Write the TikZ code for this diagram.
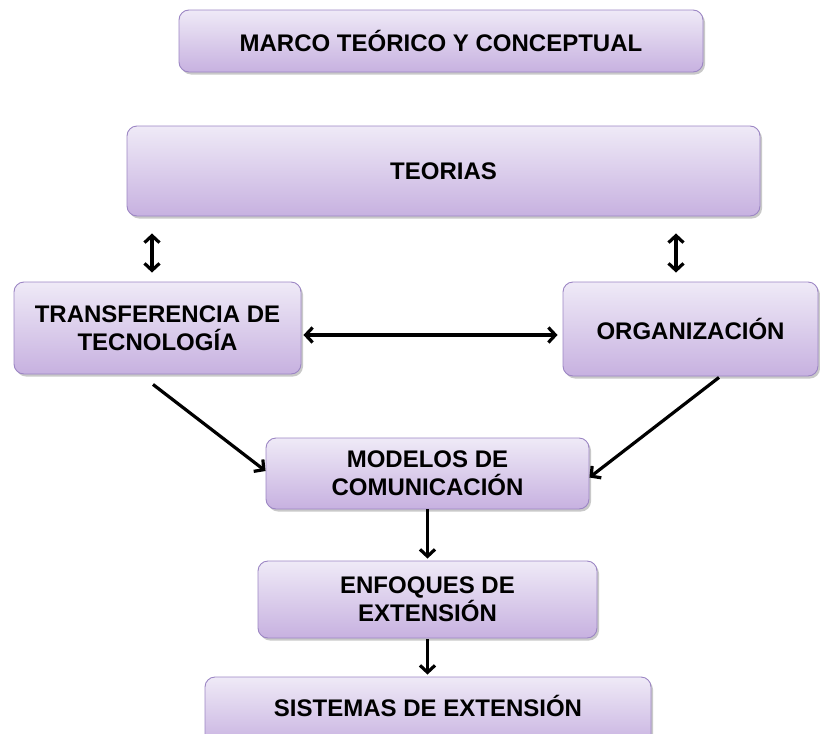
\documentclass[tikz,border=0pt]{standalone}
\usepackage{fontspec}
\setmainfont{Liberation Sans}
\usetikzlibrary{arrows.meta,shadows,calc}
\definecolor{boxtop}{HTML}{EFEAF7}
\definecolor{boxbot}{HTML}{C7B1E0}
\definecolor{boxline}{HTML}{9C86C4}
\tikzset{
  box/.style={rectangle, rounded corners=10pt, draw=boxline, line width=0.9pt,
    top color=boxtop, bottom color=boxbot, align=center, inner sep=0pt,
    font=\fontsize{24}{28}\selectfont\bfseries,
    drop shadow={shadow xshift=2pt, shadow yshift=-2.5pt, opacity=0.35, fill=black!60}},
  boxtext/.style={font=\fontsize{24}{28}\selectfont\bfseries, inner sep=0pt},
  conn/.style={line width=3.2pt, black, -{Straight Barb[length=7pt,width=15pt,line width=3.2pt]}},
  dconn/.style={line width=3.2pt, black, {Straight Barb[length=7pt,width=15pt,line width=3.2pt]}-{Straight Barb[length=7pt,width=15pt,line width=3.2pt]}}
}
\begin{document}
\begin{tikzpicture}[x=1pt,y=-1pt]
\useasboundingbox (0,0) rectangle (820,734);
\fill[white] (0,0) rectangle (820,734);
\clip (0,0) rectangle (820,734);
\node[box, minimum width=524pt, minimum height=62pt] (marco) at (441,41) {MARCO TEÓRICO Y CONCEPTUAL};
\node[box, minimum width=633pt, minimum height=90pt] (teorias) at (443.5,171) {TEORIAS};
\node[box, minimum width=287pt, minimum height=92pt] (trans) at (157.5,328) {TRANSFERENCIA DE\\TECNOLOGÍA};
\node[box, minimum width=255pt, minimum height=94pt] (org) at (690.5,329) {ORGANIZACIÓN};
\node[box, minimum width=323pt, minimum height=71pt] (modelos) at (427.5,473.5) {MODELOS DE\\COMUNICACIÓN};
\node[box, minimum width=339pt, minimum height=77pt] (enfoques) at (427.5,599.5) {ENFOQUES DE\\EXTENSIÓN};
\node[box, minimum width=446pt, minimum height=70pt] (sistemas) at (428,712) {};
\node[boxtext, anchor=base] (sistemaslbl) at (428,716) {SISTEMAS DE EXTENSIÓN};

\coordinate (tl1) at ($(teorias.south)+(-291.5,17)$);
\coordinate (tl2) at ($(trans.north)+(-5.5,-9)$);
\draw[dconn] (tl1) -- (tl2);
\coordinate (tr1) at ($(teorias.south)+(232.5,17)$);
\coordinate (tr2) at ($(org.north)+(-14.5,-9)$);
\draw[dconn] (tr1) -- (tr2);
\draw[dconn, shorten <=2pt, shorten >=5pt] ([yshift=-7pt]trans.east) -- ([yshift=-7pt]trans.east -| org.west);
\coordinate (d1) at ($(trans.south)+(-4.5,10)$);
\draw[conn] (d1) -- ([yshift=2.5pt]modelos.west);
\coordinate (d2) at ($(org.south)+(28.5,1)$);
\draw[conn] (d2) -- ([yshift=-4pt]modelos.east);
\draw[conn, shorten >=2pt] (modelos.south) -- (enfoques.north);
\draw[conn, shorten >=2pt, shorten <=1pt] (enfoques.south) -- (enfoques.south |- sistemas.north);
\end{tikzpicture}
\end{document}
